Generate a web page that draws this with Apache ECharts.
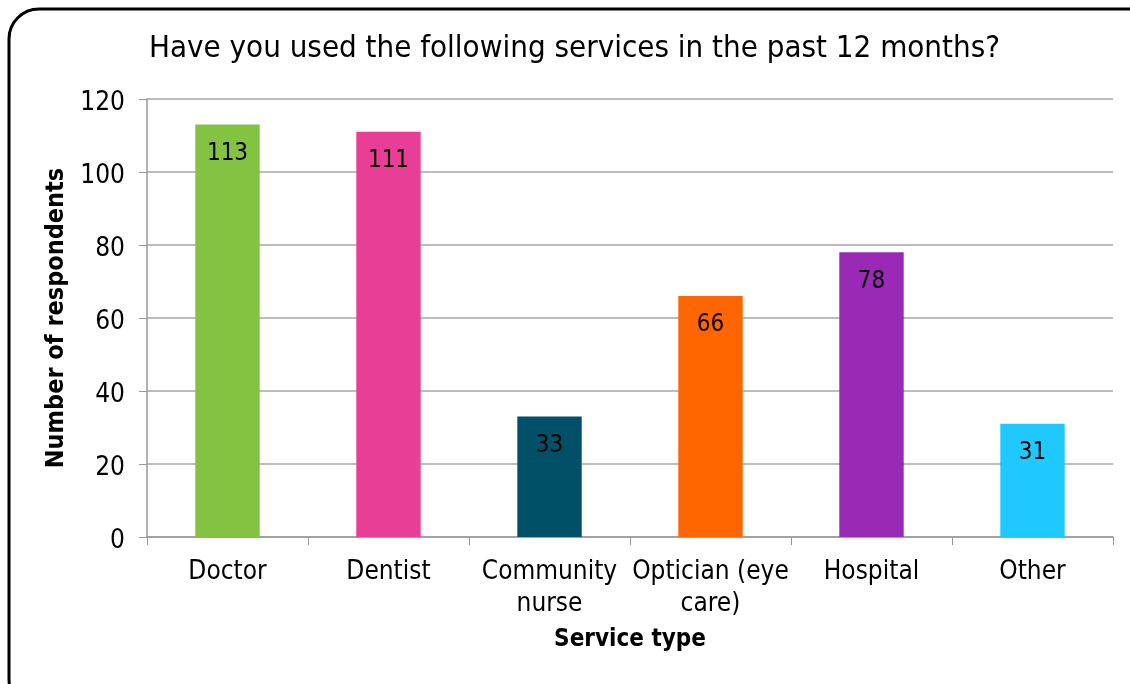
<!DOCTYPE html>
<html>
<head>
<meta charset="utf-8">
<script src="https://cdn.jsdelivr.net/npm/echarts@6/dist/echarts.min.js"></script>
<style>
  html, body { margin: 0; padding: 0; background: #fff; }
  #chart { width: 1130px; height: 684px; }
</style>
</head>
<body>
<div id="chart"></div>
<script>
const categories = ['Doctor', 'Dentist', 'Community\nnurse', 'Optician (eye\ncare)', 'Hospital', 'Other']
const values = [113, 111, 33, 66, 78, 31]
const barColors = ['#84C341', '#E83E96', '#005068', '#FF6600', '#9A29B5', '#1FC8FF']
const yTicks = [0, 20, 40, 60, 80, 100, 120]

const font = '"DejaVu Sans Condensed", "DejaVu Sans", sans-serif'

let option = {
  animation: false,
  textStyle: { fontFamily: font },
  title: {
    text: 'Have you used the following services in the past 12 months?',
    left: 144,
    top: 28,
    textStyle: { fontFamily: font, fontSize: 31, fontWeight: 'normal', color: '#000' }
  },
  graphic: [
    {
      type: 'rect',
      shape: { x: 9, y: 9, width: 1150, height: 700, r: 30 },
      style: { fill: 'none', stroke: '#000', lineWidth: 3 },
      silent: true
    }
  ],
  grid: { left: 147, right: 17, top: 99, bottom: 147 },
  xAxis: {
    type: 'category',
    data: categories,
    name: 'Service type',
    nameLocation: 'middle',
    nameGap: 91,
    nameTextStyle: { fontFamily: font, fontSize: 24, fontWeight: 'bold', color: '#000' },
    axisLine: { lineStyle: { color: '#999', width: 1.5 } },
    axisTick: { show: true, alignWithLabel: false, length: 8, lineStyle: { color: '#999' } },
    axisLabel: { fontFamily: font, fontSize: 26, color: '#000', margin: 19, lineHeight: 32, interval: 0 }
  },
  yAxis: {
    type: 'value',
    min: yTicks[0],
    max: yTicks[yTicks.length - 1],
    interval: 20,
    name: 'Number of respondents',
    nameLocation: 'middle',
    nameGap: 72,
    nameTextStyle: { fontFamily: font, fontSize: 25, fontWeight: 'bold', color: '#000' },
    axisLine: { show: true, lineStyle: { color: '#999', width: 1.5 } },
    axisTick: { show: true, length: 8, lineStyle: { color: '#999' } },
    axisLabel: { fontFamily: font, fontSize: 26, color: '#000', margin: 22, verticalAlign: 'top', lineHeight: 8 },
    splitLine: { lineStyle: { color: '#a6a6a6', width: 1.5 } }
  },
  series: [
    {
      type: 'bar',
      data: values.map((v, i) => ({ value: v, itemStyle: { color: barColors[i] } })),
      barWidth: '40%',
      label: {
        show: true,
        position: 'insideTop',
        distance: 17,
        fontFamily: font,
        fontSize: 24,
        color: '#000'
      }
    }
  ]
}

const myChart = echarts.init(document.getElementById('chart'))
myChart.setOption(option)
</script>
</body>
</html>
